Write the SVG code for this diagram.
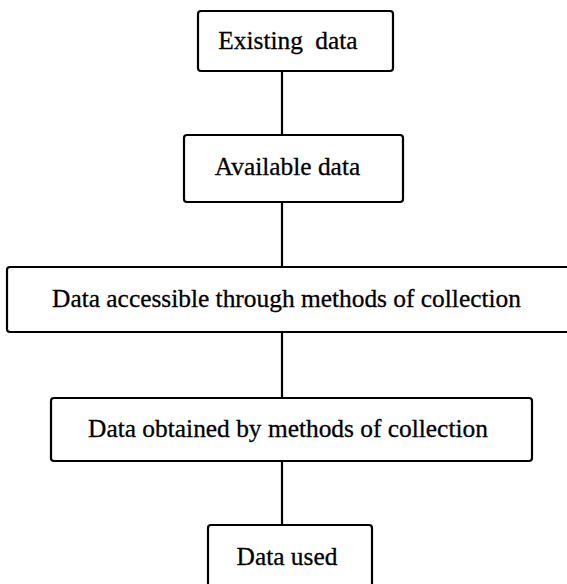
<svg xmlns="http://www.w3.org/2000/svg" width="567" height="584" viewBox="0 0 567 584">
<style>
.box{fill:#fff;stroke:#000;stroke-width:2.2}
.lbl{font-family:"Liberation Serif","Times New Roman",serif;font-size:25.4px;fill:#000;stroke:#000;stroke-width:0.3;text-anchor:middle}
.conn line{stroke:#000;stroke-width:2.2}
</style>
<rect width="567" height="584" fill="#fff"/>
<g id="connectors" class="conn">
<line x1="282" y1="71" x2="282" y2="135"/>
<line x1="282" y1="202" x2="282" y2="267"/>
<line x1="282" y1="332" x2="282" y2="398"/>
<line x1="282" y1="461" x2="282" y2="525"/>
</g>
<g id="existing">
<rect class="box" x="198" y="11" width="195" height="60" rx="3"/>
<text class="lbl" x="288" y="49" word-spacing="6">Existing data</text>
</g>
<g id="available">
<rect class="box" x="184" y="135" width="219" height="67" rx="3"/>
<text class="lbl" x="287.5" y="175">Available data</text>
</g>
<g id="accessible">
<rect class="box" x="7" y="267" width="575" height="65" rx="3"/>
<text class="lbl" x="286.5" y="307">Data accessible through methods of collection</text>
</g>
<g id="obtained">
<rect class="box" x="51" y="398" width="481" height="63" rx="3"/>
<text class="lbl" x="288" y="437">Data obtained by methods of collection</text>
</g>
<g id="used">
<rect class="box" x="208" y="525" width="164" height="70" rx="3"/>
<text class="lbl" x="287" y="565">Data used</text>
</g>
</svg>
